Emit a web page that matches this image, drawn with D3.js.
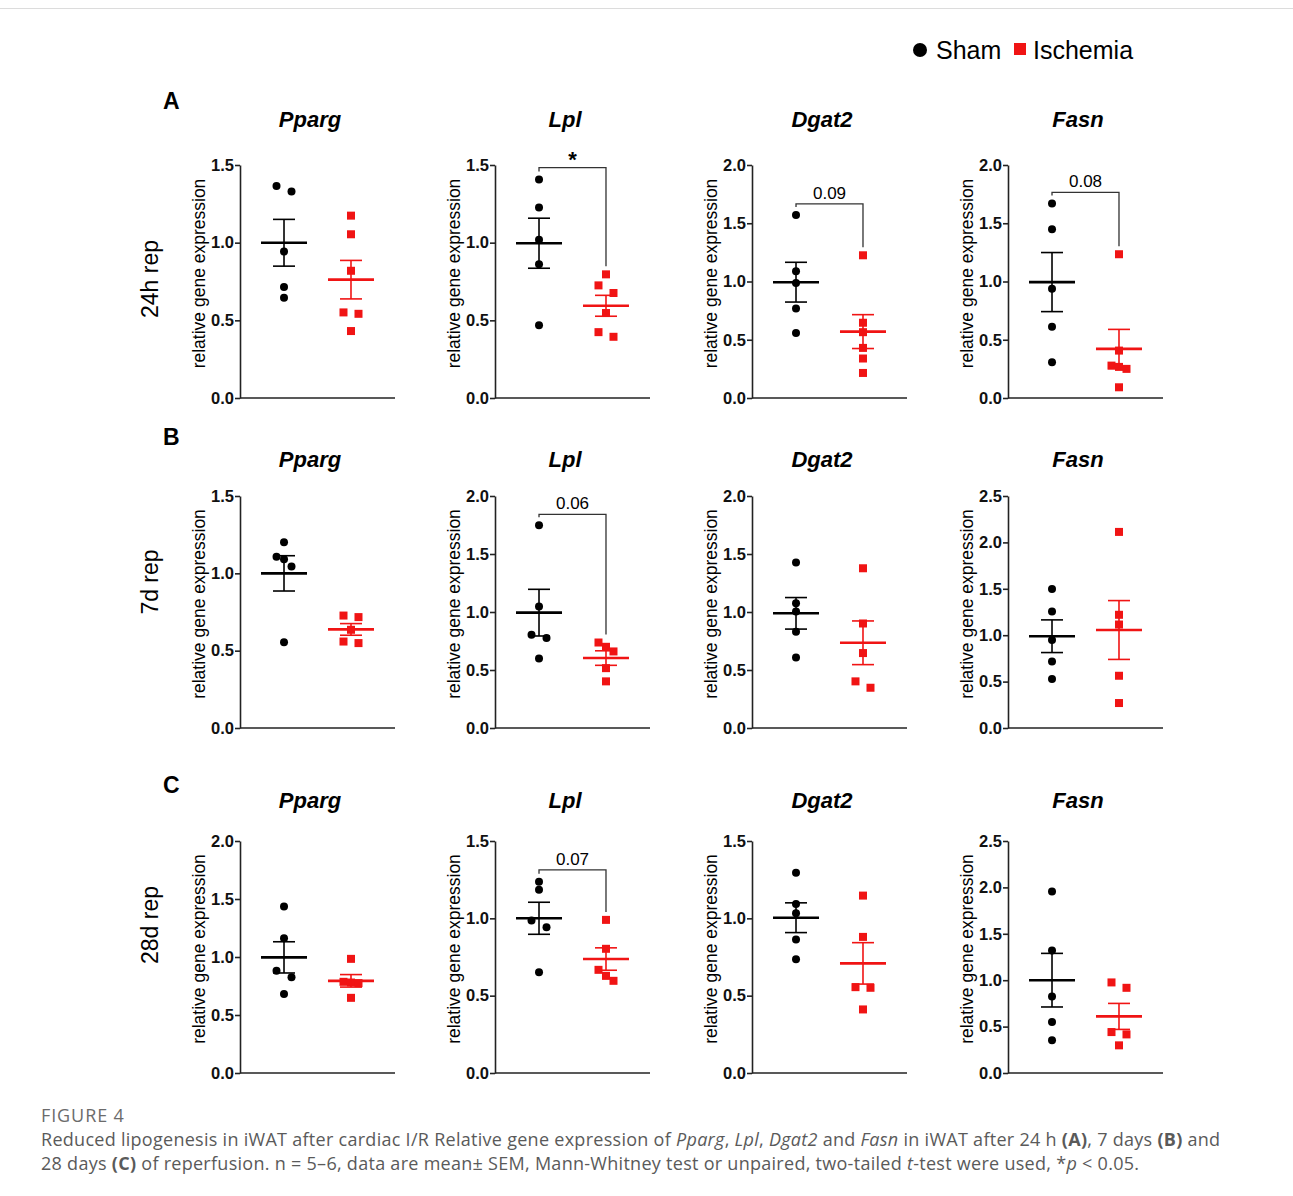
<!DOCTYPE html>
<html><head><meta charset="utf-8">
<script src="https://cdn.jsdelivr.net/npm/d3@7"></script>
<style>body{margin:0;background:#fff} svg{display:block}</style>
</head><body><svg id="c" width="1293" height="1196"></svg>
<script>
// ---------------- data ----------------
const timepoints = ["24h rep", "7d rep", "28d rep"];
const rowLetters = ["A", "B", "C"];
const genes = ["Pparg", "Lpl", "Dgat2", "Fasn"];
const groups = ["Sham", "Ischemia"];
const yMaxima = [[1.5, 1.5, 2.0, 2.0], [1.5, 2.0, 2.0, 2.5], [2.0, 1.5, 1.5, 2.5]];
const tickStep = 0.5;

const sham24h = [
  [1.365, 1.330, 0.943, 0.714, 0.645],
  [1.407, 1.227, 1.018, 0.861, 0.469],
  [1.570, 1.088, 0.987, 0.769, 0.557],
  [1.670, 1.449, 0.938, 0.611, 0.307]];
const ischemia24h = [
  [1.174, 1.054, 0.819, 0.551, 0.542, 0.431],
  [0.796, 0.725, 0.676, 0.547, 0.424, 0.394],
  [1.225, 0.646, 0.565, 0.430, 0.339, 0.215],
  [1.234, 0.407, 0.278, 0.267, 0.250, 0.092]];
const sham7d = [
  [1.201, 1.108, 1.091, 1.044, 0.555],
  [1.747, 1.047, 0.803, 0.775, 0.600],
  [1.426, 1.076, 1.004, 0.829, 0.608],
  [1.499, 1.255, 0.947, 0.717, 0.527]];
const ischemia7d = [
  [0.727, 0.717, 0.635, 0.559, 0.549],
  [0.737, 0.700, 0.660, 0.516, 0.402],
  [1.377, 0.901, 0.646, 0.402, 0.347],
  [2.113, 1.220, 1.115, 0.563, 0.269]];
const sham28d = [
  [1.435, 1.162, 0.881, 0.826, 0.680],
  [1.237, 1.184, 0.986, 0.943, 0.652],
  [1.295, 1.093, 1.033, 0.863, 0.736],
  [1.955, 1.320, 0.825, 0.549, 0.352]];
const ischemia28d = [
  [0.984, 0.786, 0.780, 0.775, 0.648],
  [0.990, 0.803, 0.667, 0.628, 0.596],
  [1.147, 0.880, 0.555, 0.551, 0.411],
  [0.976, 0.918, 0.441, 0.416, 0.298]];

const comparisons = [
  {row: 0, gene: "Lpl",   y: 1.483, label: "*"},
  {row: 0, gene: "Dgat2", y: 1.667, label: "0.09"},
  {row: 0, gene: "Fasn",  y: 1.765, label: "0.08"},
  {row: 1, gene: "Lpl",   y: 1.842, label: "0.06"},
  {row: 2, gene: "Lpl",   y: 1.313, label: "0.07"}];

const rowData = [[sham24h, ischemia24h], [sham7d, ischemia7d], [sham28d, ischemia28d]];

// ---------------- layout ----------------
const W = 1293, H = 1196;
const colX = [240, 495, 752, 1008];
const plotW = 155;
const rowTop = [165, 496, 841];
const rowBottom = [398, 728, 1073];
const titleBase = [127, 467, 808];
const letterBase = [109, 445, 793];
const rowLabelY = [279, 582, 925];
const colors = {Sham: "#000000", Ischemia: "#f01414"};
const chartFont = "'Liberation Sans', Arial, sans-serif";

const svg = d3.select("#c");
svg.append("rect").attr("width", W).attr("height", H).attr("fill", "#fff");
svg.append("line").attr("x1", 0).attr("x2", W).attr("y1", 8.5).attr("y2", 8.5)
  .attr("stroke", "#dcdcdc").attr("stroke-width", 1);

// legend
const lg = svg.append("g").attr("font-family", chartFont).attr("font-size", 25);
lg.append("circle").attr("cx", 920).attr("cy", 50).attr("r", 7).attr("fill", colors.Sham);
lg.append("text").attr("x", 936).attr("y", 59).text(groups[0]);
lg.append("rect").attr("x", 1014).attr("y", 43).attr("width", 12).attr("height", 12).attr("fill", colors.Ischemia);
lg.append("text").attr("x", 1033).attr("y", 59).text(groups[1]);

function jitterSlots(values, yScale) {
  // group points that would overlap vertically and spread them symmetrically
  const idx = values.map((v, i) => i).sort((a, b) => values[b] - values[a]);
  const slots = new Array(values.length).fill(0);
  let cluster = [idx[0]];
  const flush = () => {
    const n = cluster.length;
    cluster.forEach((k, j) => { slots[k] = n === 1 ? 0 : (n === 2 ? (j === 0 ? -1 : 1) : j - (n - 1) / 2); });
  };
  for (let j = 1; j < idx.length; j++) {
    const prev = idx[j - 1], cur = idx[j];
    if (Math.abs(yScale(values[prev]) - yScale(values[cur])) < 8) cluster.push(cur);
    else { flush(); cluster = [cur]; }
  }
  flush();
  return slots;
}

timepoints.forEach((tp, r) => {
  const top = rowTop[r], bottom = rowBottom[r];
  svg.append("text").attr("x", 163).attr("y", letterBase[r])
    .attr("font-family", chartFont).attr("font-weight", "bold").attr("font-size", 23)
    .text(rowLetters[r]);
  svg.append("text").attr("transform", `translate(158,${rowLabelY[r]}) rotate(-90)`)
    .attr("text-anchor", "middle").attr("font-family", chartFont).attr("font-size", 23)
    .text(tp);

  genes.forEach((gene, c) => {
    const x0 = colX[c];
    const g = svg.append("g").attr("transform", `translate(${x0},0)`);
    const y = d3.scaleLinear().domain([0, yMaxima[r][c]]).range([bottom, top]);
    const x = d3.scalePoint().domain(groups).range([0, plotW]).padding(0.657);

    svg.append("text").attr("x", x0 + 70).attr("y", titleBase[r]).attr("text-anchor", "middle")
      .attr("font-family", chartFont).attr("font-weight", "bold").attr("font-style", "italic")
      .attr("font-size", 22).text(gene);

    g.append("text").attr("transform", `translate(-35,${(top + bottom) / 2 - 8}) rotate(-90)`)
      .attr("text-anchor", "middle").attr("font-family", chartFont).attr("font-size", 17.5)
      .text("relative gene expression");

    const ticks = d3.range(0, yMaxima[r][c] + 1e-9, tickStep);
    const ax = g.append("g").call(d3.axisLeft(y).tickValues(ticks).tickFormat(d3.format(".1f"))
      .tickSize(5).tickSizeOuter(0).tickPadding(1));
    ax.selectAll("path, line").attr("stroke", "#222").attr("stroke-width", 1.6);
    ax.selectAll("text").attr("font-family", chartFont).attr("font-weight", "bold")
      .attr("font-size", 16.5).attr("fill", "#111");
    g.append("line").attr("x1", 0).attr("x2", plotW).attr("y1", bottom).attr("y2", bottom)
      .attr("stroke", "#222").attr("stroke-width", 1.6);

    groups.forEach((grp, k) => {
      const vals = rowData[r][k][c];
      const col = colors[grp];
      const cx = x(grp);
      const slots = jitterSlots(vals, y);
      const pts = g.append("g");
      if (grp === "Sham") {
        pts.selectAll("circle").data(vals).join("circle")
          .attr("cx", (d, i) => cx + slots[i] * 7.5).attr("cy", d => y(d)).attr("r", 4)
          .attr("fill", col);
      } else {
        pts.selectAll("rect").data(vals).join("rect")
          .attr("x", (d, i) => cx + slots[i] * 7.5 - 4).attr("y", d => y(d) - 4)
          .attr("width", 8).attr("height", 8).attr("fill", col);
      }
      const m = d3.mean(vals);
      const sem = d3.deviation(vals) / Math.sqrt(vals.length);
      const eb = g.append("g").attr("stroke", col);
      eb.append("line").attr("x1", cx - 23).attr("x2", cx + 23).attr("y1", y(m)).attr("y2", y(m)).attr("stroke-width", 2.6);
      eb.append("line").attr("x1", cx).attr("x2", cx).attr("y1", y(m - sem)).attr("y2", y(m + sem)).attr("stroke-width", 1.6);
      [m - sem, m + sem].forEach(v => eb.append("line").attr("x1", cx - 11).attr("x2", cx + 11)
        .attr("y1", y(v)).attr("y2", y(v)).attr("stroke-width", 1.6));
    });

    comparisons.filter(cp => cp.row === r && cp.gene === gene).forEach(cp => {
      const yb = y(cp.y);
      const yS = y(d3.max(rowData[r][0][c])) - 8;
      const yI = y(d3.max(rowData[r][1][c])) - 8;
      const xs = x("Sham"), xi = x("Ischemia");
      g.append("path").attr("d", `M${xs},${yS}V${yb}H${xi}V${yI}`)
        .attr("fill", "none").attr("stroke", "#333").attr("stroke-width", 1.3);
      const star = cp.label === "*";
      g.append("text").attr("x", (xs + xi) / 2).attr("y", star ? yb - 1 : yb - 5)
        .attr("text-anchor", "middle").attr("font-family", chartFont)
        .attr("font-size", star ? 22 : 17).attr("font-weight", star ? "bold" : "normal")
        .text(cp.label);
    });
  });
});

// caption
const capFont = "'Open Sans', 'Noto Sans', sans-serif";
svg.append("text").attr("x", 41).attr("y", 1122).attr("font-family", capFont)
  .attr("font-size", 18).attr("letter-spacing", 0.9).attr("fill", "#6b6b6b").text("FIGURE 4");
const captionLines = [
  [["Reduced lipogenesis in iWAT after cardiac I/R Relative gene expression of ", ""], ["Pparg", "i"], [", ", ""], ["Lpl", "i"], [", ", ""], ["Dgat2", "i"], [" and ", ""], ["Fasn", "i"], [" in iWAT after 24 h ", ""], ["(A)", "b"], [", 7 days ", ""], ["(B)", "b"], [" and", ""]],
  [["28 days ", ""], ["(C)", "b"], [" of reperfusion. n = 5–6, data are mean± SEM, Mann-Whitney test or unpaired, two-tailed ", ""], ["t", "i"], ["-test were used, *", ""], ["p", "i"], [" < 0.05.", ""]]
];
captionLines.forEach((line, li) => {
  const t = svg.append("text").attr("x", 41).attr("y", 1146 + li * 24).attr("font-family", capFont)
    .attr("font-size", 18).attr("letter-spacing", 0.28).attr("fill", "#5a5a5a").attr("xml:space", "preserve");
  line.forEach(([s, st]) => {
    t.append("tspan").attr("font-style", st === "i" ? "italic" : "normal")
      .attr("font-weight", st === "b" ? "bold" : "normal").text(s);
  });
});
</script></body></html>
